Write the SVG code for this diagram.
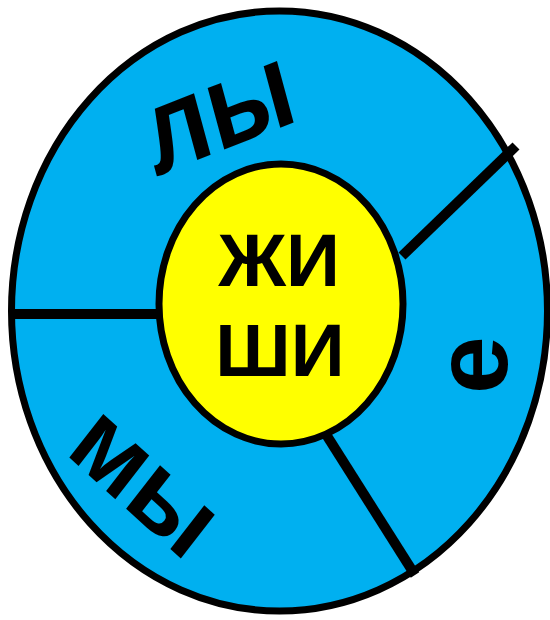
<svg xmlns="http://www.w3.org/2000/svg" width="550" height="620" viewBox="0 0 550 620">
<style>
.lbl{font-family:"Liberation Sans",Arial,sans-serif;font-weight:bold;fill:#000;text-anchor:middle}
.spoke{stroke:#000;stroke-width:10;fill:none}
</style>
<rect width="550" height="620" fill="#fff"/>
<g id="outer">
<ellipse cx="279.5" cy="311" rx="268" ry="300" fill="#00B0F0" stroke="#000" stroke-width="7"/>
</g>
<g id="connectors">
<line class="spoke" x1="15" y1="314" x2="160" y2="314"/>
<line class="spoke" x1="402" y1="256" x2="516" y2="146"/>
<line class="spoke" x1="322" y1="428" x2="415" y2="575"/>
</g>
<g id="center">
<ellipse cx="281" cy="304" rx="122" ry="140" fill="#FFFF00" stroke="#000" stroke-width="7"/>
<text class="lbl" x="279" y="286" font-size="75">ЖИ</text>
<text class="lbl" x="280" y="376" font-size="75">ШИ</text>
</g>
<g id="ly">
<text class="lbl" font-size="102" transform="translate(228,148) scale(1,1.2) rotate(-18)">лы</text>
</g>
<g id="e">
<text class="lbl" font-size="104" transform="translate(507,365) rotate(-90)">е</text>
</g>
<g id="my">
<text class="lbl" font-size="100" transform="translate(125,508) scale(1,1.08) rotate(40)">мы</text>
</g>
</svg>
